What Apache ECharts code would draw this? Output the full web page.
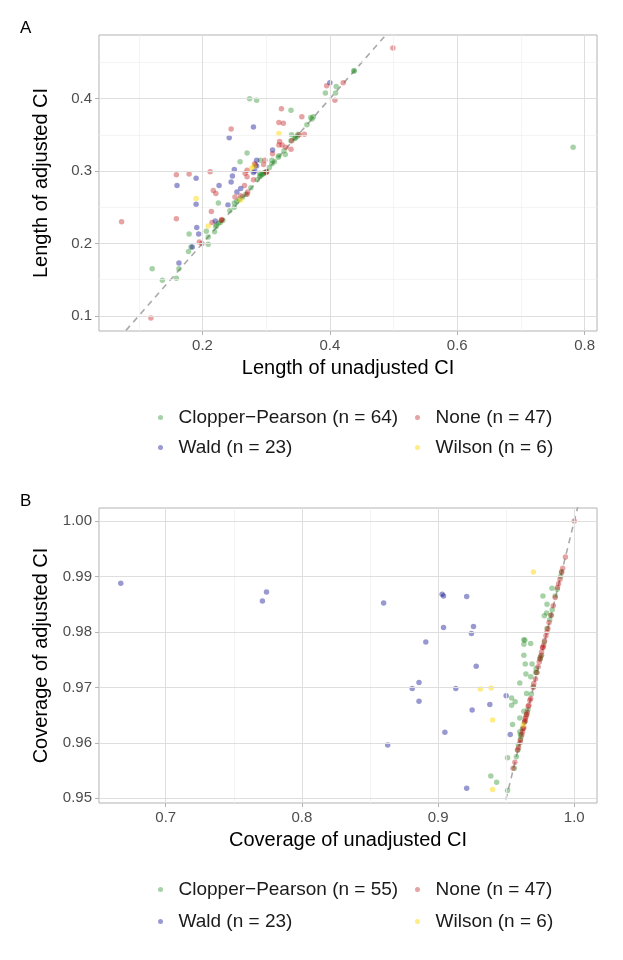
<!DOCTYPE html>
<html>
<head>
<meta charset="utf-8">
<script src="https://cdn.jsdelivr.net/npm/echarts@6/dist/echarts.min.js"></script>
<style>
  body { margin: 0; background: #fff; }
  #main { width: 623px; height: 960px; }
</style>
</head>
<body>
<div id="main"></div>
<script>
// panel A: length of CI, [unadjusted, adjusted]
var cpA = [[0.121,0.165],[0.137,0.149],[0.159,0.152],[0.163,0.165],[0.178,0.189],[0.182,0.195],[0.179,0.213],[0.209,0.199],[0.209,0.209],[0.206,0.217],[0.219,0.216],[0.221,0.223],[0.222,0.225],[0.225,0.228],[0.228,0.229],[0.232,0.232],[0.225,0.256],[0.243,0.245],[0.250,0.250],[0.250,0.256],[0.254,0.258],[0.258,0.261],[0.263,0.264],[0.268,0.268],[0.276,0.277],[0.286,0.288],[0.290,0.292],[0.291,0.294],[0.293,0.295],[0.290,0.297],[0.295,0.296],[0.296,0.297],[0.298,0.298],[0.300,0.299],[0.259,0.313],[0.270,0.325],[0.291,0.315],[0.274,0.400],[0.285,0.398],[0.305,0.305],[0.309,0.310],[0.309,0.315],[0.313,0.313],[0.319,0.319],[0.320,0.321],[0.330,0.323],[0.328,0.328],[0.339,0.342],[0.340,0.350],[0.345,0.345],[0.346,0.346],[0.349,0.348],[0.350,0.351],[0.364,0.364],[0.370,0.374],[0.372,0.372],[0.374,0.375],[0.339,0.384],[0.393,0.408],[0.409,0.408],[0.410,0.417],[0.438,0.438],[0.438,0.439],[0.782,0.333]];
var noneA = [[0.073,0.230],[0.119,0.097],[0.159,0.234],[0.159,0.295],[0.179,0.296],[0.195,0.202],[0.199,0.200],[0.212,0.299],[0.214,0.244],[0.217,0.273],[0.221,0.269],[0.215,0.229],[0.230,0.233],[0.245,0.358],[0.251,0.264],[0.260,0.266],[0.266,0.280],[0.267,0.297],[0.270,0.301],[0.270,0.292],[0.270,0.268],[0.271,0.271],[0.280,0.288],[0.282,0.310],[0.283,0.308],[0.296,0.309],[0.298,0.315],[0.300,0.298],[0.310,0.324],[0.320,0.367],[0.327,0.366],[0.324,0.386],[0.321,0.341],[0.320,0.336],[0.325,0.336],[0.331,0.333],[0.339,0.330],[0.340,0.342],[0.352,0.350],[0.360,0.351],[0.356,0.375],[0.395,0.418],[0.408,0.398],[0.421,0.422],[0.499,0.470],[0.230,0.232],[0.301,0.299]];
var waldA = [[0.160,0.280],[0.190,0.290],[0.190,0.254],[0.191,0.222],[0.194,0.213],[0.184,0.195],[0.163,0.173],[0.220,0.231],[0.226,0.280],[0.240,0.253],[0.242,0.346],[0.245,0.285],[0.247,0.293],[0.250,0.302],[0.254,0.271],[0.260,0.276],[0.280,0.361],[0.280,0.298],[0.282,0.300],[0.285,0.315],[0.285,0.307],[0.310,0.329],[0.400,0.422]];
var wilsonA = [[0.190,0.262],[0.209,0.224],[0.260,0.260],[0.277,0.304],[0.281,0.307],[0.320,0.352]];

// panel B: coverage of CI, [unadjusted, adjusted]
var cpB = [[0.9387,0.9540],[0.943,0.9529],[0.951,0.9514],[0.951,0.9573],[0.954,0.9681],[0.9566,0.9674],[0.954,0.9668],[0.960,0.9708],[0.960,0.9645],[0.9547,0.9633],[0.960,0.9620],[0.9605,0.9606],[0.965,0.9689],[0.963,0.9657],[0.9645,0.9724],[0.968,0.9719],[0.9716,0.9727],[0.963,0.9758],[0.964,0.9742],[0.969,0.9742],[0.963,0.9778],[0.963,0.9786],[0.9637,0.9785],[0.968,0.9779],[0.972,0.9734],[0.975,0.9754],[0.978,0.9829],[0.9797,0.9834],[0.980,0.9850],[0.977,0.9865],[0.9838,0.9840],[0.983,0.9830],[0.986,0.9865],[0.9836,0.9879],[0.9907,0.9909],[0.980,0.9806],[0.965,0.9651],[0.9586,0.9587],[0.956,0.9554],[0.959,0.9596],[0.9605,0.9615],[0.962,0.9626],[0.975,0.9751],[0.976,0.9758],[0.966,0.9660],[0.970,0.9702],[0.9725,0.9727],[0.978,0.9782],[0.9875,0.9877],[0.990,0.990],[0.961,0.9612],[0.9635,0.9637],[0.9685,0.9688],[0.982,0.9822],[0.9575,0.9575]];
var noneB = [[0.9551,0.9554],[0.9564,0.9565],[0.9583,0.9587],[0.9591,0.9591],[0.9601,0.9600],[0.9605,0.9605],[0.9615,0.9615],[0.9620,0.9620],[0.9625,0.9626],[0.9630,0.9627],[0.9635,0.9638],[0.9640,0.9644],[0.9645,0.9647],[0.9650,0.9651],[0.9655,0.9655],[0.9662,0.9666],[0.9667,0.9668],[0.9674,0.9677],[0.9680,0.9680],[0.9699,0.9700],[0.9703,0.9707],[0.9715,0.9715],[0.9725,0.9727],[0.9735,0.9737],[0.9743,0.9746],[0.9748,0.9751],[0.9755,0.9757],[0.9760,0.9764],[0.9767,0.9772],[0.9770,0.9772],[0.9775,0.9776],[0.9782,0.9784],[0.9792,0.9793],[0.9800,0.9800],[0.9806,0.9806],[0.9815,0.9817],[0.9830,0.9830],[0.9846,0.9847],[0.9860,0.9862],[0.9877,0.9880],[0.9885,0.9887],[0.9895,0.9895],[0.9907,0.9907],[0.9915,0.9915],[0.9935,0.9935],[1.0000,1.0000],[0.9640,0.9640]];
var waldB = [[0.667,0.9888],[0.771,0.9856],[0.774,0.9872],[0.860,0.9852],[0.891,0.9782],[0.881,0.9698],[0.886,0.9709],[0.886,0.9675],[0.863,0.9596],[0.903,0.9868],[0.904,0.9865],[0.921,0.9864],[0.904,0.9808],[0.926,0.9810],[0.9245,0.9797],[0.928,0.9738],[0.913,0.9698],[0.905,0.9619],[0.925,0.9659],[0.938,0.9669],[0.950,0.9685],[0.953,0.9615],[0.921,0.9518]];
var wilsonB = [[0.970,0.9908],[0.931,0.9697],[0.939,0.9699],[0.940,0.9641],[0.940,0.9516],[0.9625,0.9632]];

// reference line y = x
var refLine = [[0, 0], [1.05, 1.05]];

var namesA = ['Clopper\u2212Pearson (n = 64)', 'Wald (n = 23)', 'None (n = 47)', 'Wilson (n = 6)'];
var namesB = ['Clopper\u2212Pearson (n = 55)', 'Wald (n = 23)', 'None (n = 47)', 'Wilson (n = 6)'];

var xTicksA = [0.2, 0.4, 0.6, 0.8];
var xMinorA = [0.1, 0.3, 0.5, 0.7];
var yTicksA = [0.1, 0.2, 0.3, 0.4];
var yMinorA = [0.15, 0.25, 0.35, 0.45];
var xTicksB = [0.7, 0.8, 0.9, 1.0];
var xMinorB = [0.75, 0.85, 0.95];
var yTicksB = [0.95, 0.96, 0.97, 0.98, 0.99, 1.00];
var yMinorB = [0.955, 0.965, 0.975, 0.985, 0.995];

var colors = ['rgba(34,139,34,0.5)', 'rgba(0,0,139,0.5)', 'rgba(196,26,26,0.5)', 'rgba(255,215,0,0.6)'];
var FONT = '"Liberation Sans", Arial, sans-serif';

var chart = echarts.init(document.getElementById('main'), null, { renderer: 'canvas' });

function makeAxis(grid, min, max, ticks, digits, name, isY) {
  return {
    type: 'value',
    gridIndex: grid,
    min: min,
    max: max,
    name: name,
    nameLocation: 'middle',
    nameGap: isY ? 48 : 27,
    nameTextStyle: { fontSize: 20, color: '#000', fontFamily: FONT },
    axisLine: { show: false },
    splitLine: { show: false },
    axisTick: { show: true, length: 4, customValues: ticks, lineStyle: { color: '#b3b3b3' } },
    axisLabel: {
      customValues: ticks,
      margin: 7,
      fontSize: 15,
      color: '#4d4d4d',
      fontFamily: FONT,
      formatter: function (v) { return v.toFixed(digits); }
    }
  };
}

function gridLines(xMajor, xMinor, yMajor, yMinor) {
  var d = [];
  var minor = { color: '#efefef', width: 0.7, type: 'solid' };
  var major = { color: '#dedede', width: 1, type: 'solid' };
  xMinor.forEach(function (v) { d.push({ xAxis: v, lineStyle: minor }); });
  yMinor.forEach(function (v) { d.push({ yAxis: v, lineStyle: minor }); });
  xMajor.forEach(function (v) { d.push({ xAxis: v, lineStyle: major }); });
  yMajor.forEach(function (v) { d.push({ yAxis: v, lineStyle: major }); });
  return d;
}

function panelSeries(idx, names, sets, xMajor, xMinor, yMajor, yMinor) {
  var out = [];
  out.push({
    type: 'line', xAxisIndex: idx, yAxisIndex: idx, data: [], z: 1,
    markLine: { silent: true, symbol: ['none', 'none'], label: { show: false }, animation: false,
      lineStyle: { type: 'solid' },
      data: gridLines(xMajor, xMinor, yMajor, yMinor) }
  });
  out.push({
    type: 'line', xAxisIndex: idx, yAxisIndex: idx, data: refLine, z: 2, clip: true,
    showSymbol: false, silent: true,
    lineStyle: { color: '#aaaaaa', width: 1.6, type: [6, 5] }
  });
  // draw order: CP, None, Wald, Wilson
  [0, 2, 1, 3].forEach(function (i) {
    out.push({
      name: names[i], type: 'scatter', xAxisIndex: idx, yAxisIndex: idx, data: sets[i], z: 3,
      symbol: 'circle', symbolSize: 5.5, itemStyle: { color: colors[i] }
    });
  });
  return out;
}

function legendAt(name, left, top) {
  return {
    data: [name], left: left, top: top, padding: 0, selectedMode: false,
    icon: 'circle', itemWidth: 26, itemHeight: 5,
    textStyle: { fontSize: 19, color: '#1a1a1a', fontFamily: FONT }
  };
}

var option = {
  animation: false,
  grid: [
    { left: 99, top: 35, width: 498, height: 296, show: true, borderColor: '#b3b3b3', borderWidth: 1 },
    { left: 99, top: 508, width: 498, height: 295, show: true, borderColor: '#b3b3b3', borderWidth: 1 }
  ],
  xAxis: [
    makeAxis(0, 0.0375, 0.8195, xTicksA, 1, 'Length of unadjusted CI', false),
    makeAxis(1, 0.651, 1.0167, xTicksB, 1, 'Coverage of unadjusted CI', false)
  ],
  yAxis: [
    makeAxis(0, 0.079, 0.488, yTicksA, 1, 'Length of adjusted CI', true),
    makeAxis(1, 0.94915, 1.00235, yTicksB, 2, 'Coverage of adjusted CI', true)
  ],
  legend: [
    legendAt(namesA[0], 158, 408), legendAt(namesA[2], 415, 408),
    legendAt(namesA[1], 158, 438), legendAt(namesA[3], 415, 438),
    legendAt(namesB[0], 158, 880), legendAt(namesB[2], 415, 880),
    legendAt(namesB[1], 158, 912), legendAt(namesB[3], 415, 912)
  ],
  graphic: [
    { type: 'text', left: 20, top: 20, style: { text: 'A', fontSize: 17, fill: '#000', fontFamily: FONT } },
    { type: 'text', left: 20, top: 493, style: { text: 'B', fontSize: 17, fill: '#000', fontFamily: FONT } }
  ],
  series: panelSeries(0, namesA, [cpA, waldA, noneA, wilsonA], xTicksA, xMinorA, yTicksA, yMinorA)
    .concat(panelSeries(1, namesB, [cpB, waldB, noneB, wilsonB], xTicksB, xMinorB, yTicksB, yMinorB))
};

chart.setOption(option);
</script>
</body>
</html>
